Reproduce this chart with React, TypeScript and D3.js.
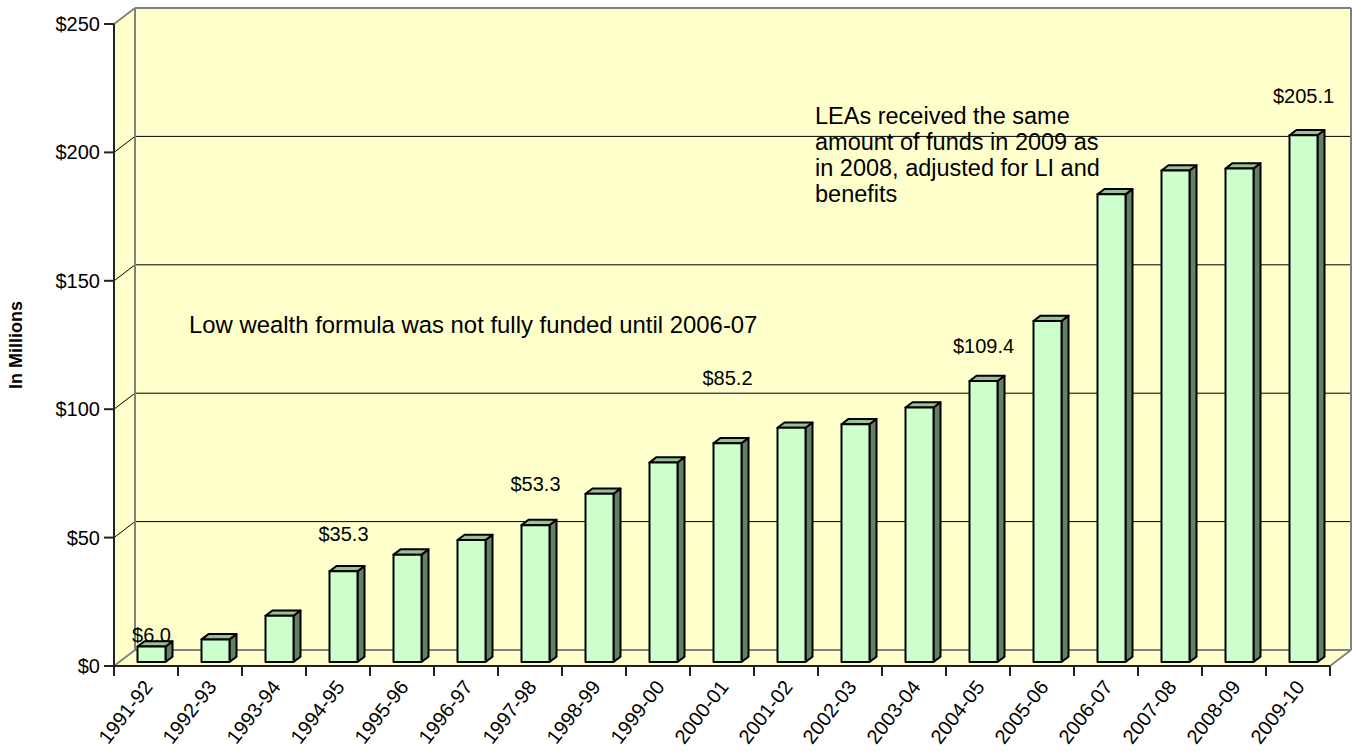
import React from "react";
import * as d3 from "d3";

const categories = ["1991-92","1992-93","1993-94","1994-95","1995-96","1996-97","1997-98","1998-99","1999-00","2000-01","2001-02","2002-03","2003-04","2004-05","2005-06","2006-07","2007-08","2008-09","2009-10"];
const values = [6.0, 8.8, 18.0, 35.3, 41.8, 47.5, 53.3, 65.5, 77.7, 85.2, 91.2, 92.6, 99.1, 109.4, 132.8, 182.1, 191.4, 192.2, 205.1];
const yTicks = [0, 50, 100, 150, 200, 250];
const labelled = [0, 3, 6, 9, 13, 18];
const labelLift = [12, 37, 41, 65, 35, 39];
const note1 = ["Low wealth formula was not fully funded until 2006-07"];
const note2 = ["LEAs received the same", "amount of funds in 2009 as", "in 2008, adjusted for LI and", "benefits"];

const W = 1352, H = 756;
const FX0 = 114, FX1 = 1330, FY0 = 666, FY1 = 24;
const DX = 21, DY = -16;
const OX = 5.5, OY = -4;
const BDX = 7, BDY = -5.3;
const BW = 28;
const FONT = "'Liberation Sans', Arial, sans-serif";
const WALL = "#FFFFCC";

export default function App() {
  const x = d3.scaleBand<string>().domain(categories).range([FX0, FX1]).padding(0);
  const y = d3.scaleLinear().domain([0, 250]).range([FY0, FY1]);
  const step = x.step();
  const pts = (a: number[][]) => a.map(p => p.join(",")).join(" ");

  return (
    <svg width={W} height={H} style={{ position: "absolute", left: 0, top: 0, background: "#fff" }} fontFamily={FONT}>
      <polygon points={pts([[FX0, FY1], [FX0 + DX, FY1 + DY], [FX0 + DX, FY0 + DY], [FX0, FY0]])} fill={WALL} />
      <rect x={FX0 + DX} y={FY1 + DY} width={FX1 - FX0} height={FY0 - FY1} fill={WALL} />
      <polygon points={pts([[FX0, FY0], [FX0 + DX, FY0 + DY], [FX1 + DX, FY0 + DY], [FX1, FY0]])} fill={WALL} />
      {yTicks.filter(t => t > 0 && t < 250).map(t => (
        <g key={t} stroke="#000" strokeWidth={1}>
          <line x1={FX0 + DX} x2={FX1 + DX} y1={y(t) + DY} y2={y(t) + DY} />
          <line x1={FX0} x2={FX0 + DX} y1={y(t)} y2={y(t) + DY} />
        </g>
      ))}
      <g stroke="#808080" strokeWidth={2} fill="none">
        <line x1={FX0 + DX} x2={FX1 + DX} y1={y(250) + DY} y2={y(250) + DY} />
        <line x1={FX0 + DX} x2={FX0 + DX} y1={y(250) + DY} y2={y(0) + DY} />
        <line x1={FX1 + DX} x2={FX1 + DX} y1={y(250) + DY} y2={y(0) + DY} />
        <line x1={FX0 + DX} x2={FX1 + DX} y1={y(0) + DY} y2={y(0) + DY} />
        <line x1={FX0} x2={FX0 + DX} y1={y(250)} y2={y(250) + DY} />
        <line x1={FX0} x2={FX0 + DX} y1={y(0)} y2={y(0) + DY} />
        <line x1={FX1} x2={FX1 + DX} y1={y(0)} y2={y(0) + DY} />
      </g>
      {categories.map((c, i) => {
        const x0 = (x(c) as number) + (step - BW) / 2 + OX;
        const x1 = x0 + BW;
        const yb = y(0) + OY;
        const yt = y(values[i]) + OY;
        return (
          <g key={c} stroke="#000" strokeWidth={2} strokeLinejoin="round">
            <polygon points={pts([[x1, yt], [x1 + BDX, yt + BDY], [x1 + BDX, yb + BDY], [x1, yb]])} fill="#668066" />
            <polygon points={pts([[x0, yt], [x0 + BDX, yt + BDY], [x1 + BDX, yt + BDY], [x1, yt]])} fill="#99BF99" />
            <rect x={x0} y={yt} width={BW} height={yb - yt} fill="#CCFFCC" />
          </g>
        );
      })}
      <g stroke="#222" strokeWidth={2}>
        <line x1={FX0} x2={FX0} y1={y(250)} y2={y(0)} />
        <line x1={FX0} x2={FX1} y1={y(0)} y2={y(0)} />
        {yTicks.map(t => <line key={t} x1={FX0 - 10} x2={FX0} y1={y(t)} y2={y(t)} />)}
        {d3.range(categories.length + 1).map(k => (
          <line key={k} x1={FX0 + k * step} x2={FX0 + k * step} y1={y(0)} y2={y(0) + 10} />
        ))}
      </g>
      {yTicks.map(t => (
        <text key={t} x={FX0 - 14} y={y(t)} dy="0.35em" textAnchor="end" fontSize={20} fill="#000">{"$" + t}</text>
      ))}
      {categories.map(c => {
        const cx = (x(c) as number) + step / 2 + 2;
        const cy = y(0) + 17;
        return (
          <text key={c} x={cx} y={cy} transform={`rotate(-52 ${cx} ${cy})`} textAnchor="end" dy="0.35em" fontSize={20} fill="#000">{c}</text>
        );
      })}
      <text x={22} y={345} transform="rotate(-90 22 345)" textAnchor="middle" fontSize={18} fontWeight="bold" fill="#000">In Millions</text>
      {labelled.map((i, k) => {
        const cx = (x(categories[i]) as number) + step / 2 + OX;
        const ty = y(values[i]) + OY - labelLift[k];
        return (
          <text key={i} x={cx} y={ty} dy="0.35em" textAnchor="middle" fontSize={20} fill="#000">{"$" + values[i].toFixed(1)}</text>
        );
      })}
      {note1.map((s, k) => (
        <text key={k} x={189} y={325} dy="0.35em" fontSize={23.9} fill="#000">{s}</text>
      ))}
      {note2.map((s, k) => (
        <text key={k} x={815} y={124 + k * 26} fontSize={23.5} fill="#000">{s}</text>
      ))}
    </svg>
  );
}
